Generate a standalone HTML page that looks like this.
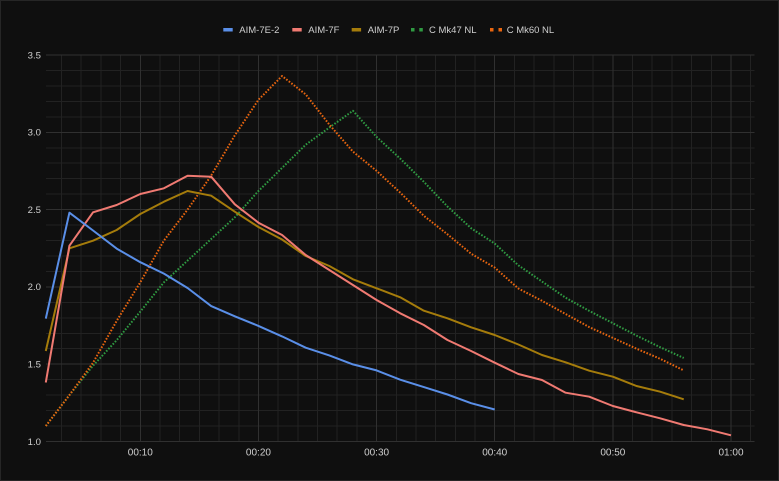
<!DOCTYPE html>
<html><head><meta charset="utf-8"><style>
html,body{margin:0;padding:0;background:#0f0f0f;}
body{width:779px;height:481px;overflow:hidden;}
svg{display:block;}
text{font-family:"Liberation Sans",sans-serif;fill:#cfcfcf;}
</style></head><body>
<svg width="779" height="481" viewBox="0 0 779 481" xmlns="http://www.w3.org/2000/svg">
<rect x="0.5" y="0.5" width="778" height="480" fill="#0f0f0f" stroke="#262626" stroke-width="1"/>
<!-- legend -->
<g font-size="9.5">
<rect x="223.3" y="28" width="9.4" height="3.5" fill="#5a8fe8"/>
<text x="239.3" y="33">AIM-7E-2</text>
<rect x="292.3" y="28" width="9.4" height="3.5" fill="#f07a72"/>
<text x="308.3" y="33">AIM-7F</text>
<rect x="351.7" y="28" width="9.4" height="3.5" fill="#a57c0b"/>
<text x="367.7" y="33">AIM-7P</text>
<rect x="411" y="28" width="3.5" height="3.5" fill="#2f9a42"/>
<rect x="419.3" y="28" width="3.5" height="3.5" fill="#2f9a42"/>
<text x="429" y="33">C Mk47 NL</text>
<rect x="490" y="28" width="3.5" height="3.5" fill="#e8650f"/>
<rect x="498.5" y="28" width="3.5" height="3.5" fill="#e8650f"/>
<text x="506.7" y="33">C Mk60 NL</text>
</g>
<!-- grid -->
<g stroke="#222222" stroke-width="1" shape-rendering="crispEdges">
<line x1="45.8" x2="754.3" y1="426.04" y2="426.04"/>
<line x1="45.8" x2="754.3" y1="410.58" y2="410.58"/>
<line x1="45.8" x2="754.3" y1="395.12" y2="395.12"/>
<line x1="45.8" x2="754.3" y1="379.66" y2="379.66"/>
<line x1="45.8" x2="754.3" y1="348.74" y2="348.74"/>
<line x1="45.8" x2="754.3" y1="333.28" y2="333.28"/>
<line x1="45.8" x2="754.3" y1="317.82" y2="317.82"/>
<line x1="45.8" x2="754.3" y1="302.36" y2="302.36"/>
<line x1="45.8" x2="754.3" y1="271.44" y2="271.44"/>
<line x1="45.8" x2="754.3" y1="255.98" y2="255.98"/>
<line x1="45.8" x2="754.3" y1="240.52" y2="240.52"/>
<line x1="45.8" x2="754.3" y1="225.06" y2="225.06"/>
<line x1="45.8" x2="754.3" y1="194.14" y2="194.14"/>
<line x1="45.8" x2="754.3" y1="178.68" y2="178.68"/>
<line x1="45.8" x2="754.3" y1="163.22" y2="163.22"/>
<line x1="45.8" x2="754.3" y1="147.76" y2="147.76"/>
<line x1="45.8" x2="754.3" y1="116.84" y2="116.84"/>
<line x1="45.8" x2="754.3" y1="101.38" y2="101.38"/>
<line x1="45.8" x2="754.3" y1="85.92" y2="85.92"/>
<line x1="45.8" x2="754.3" y1="70.46" y2="70.46"/>
<line y1="55" y2="441.5" x1="61.54" x2="61.54"/>
<line y1="55" y2="441.5" x1="81.23" x2="81.23"/>
<line y1="55" y2="441.5" x1="100.92" x2="100.92"/>
<line y1="55" y2="441.5" x1="120.61" x2="120.61"/>
<line y1="55" y2="441.5" x1="159.99" x2="159.99"/>
<line y1="55" y2="441.5" x1="179.68" x2="179.68"/>
<line y1="55" y2="441.5" x1="199.37" x2="199.37"/>
<line y1="55" y2="441.5" x1="219.06" x2="219.06"/>
<line y1="55" y2="441.5" x1="238.75" x2="238.75"/>
<line y1="55" y2="441.5" x1="278.13" x2="278.13"/>
<line y1="55" y2="441.5" x1="297.82" x2="297.82"/>
<line y1="55" y2="441.5" x1="317.51" x2="317.51"/>
<line y1="55" y2="441.5" x1="337.2" x2="337.2"/>
<line y1="55" y2="441.5" x1="356.89" x2="356.89"/>
<line y1="55" y2="441.5" x1="396.27" x2="396.27"/>
<line y1="55" y2="441.5" x1="415.96" x2="415.96"/>
<line y1="55" y2="441.5" x1="435.65" x2="435.65"/>
<line y1="55" y2="441.5" x1="455.34" x2="455.34"/>
<line y1="55" y2="441.5" x1="475.03" x2="475.03"/>
<line y1="55" y2="441.5" x1="514.41" x2="514.41"/>
<line y1="55" y2="441.5" x1="534.1" x2="534.1"/>
<line y1="55" y2="441.5" x1="553.79" x2="553.79"/>
<line y1="55" y2="441.5" x1="573.48" x2="573.48"/>
<line y1="55" y2="441.5" x1="593.17" x2="593.17"/>
<line y1="55" y2="441.5" x1="632.55" x2="632.55"/>
<line y1="55" y2="441.5" x1="652.24" x2="652.24"/>
<line y1="55" y2="441.5" x1="671.93" x2="671.93"/>
<line y1="55" y2="441.5" x1="691.62" x2="691.62"/>
<line y1="55" y2="441.5" x1="711.31" x2="711.31"/>
<line y1="55" y2="441.5" x1="750.69" x2="750.69"/>
</g>
<g stroke="#303030" stroke-width="1" shape-rendering="crispEdges">
<line x1="45.8" x2="754.3" y1="441.5" y2="441.5"/>
<line x1="45.8" x2="754.3" y1="364.2" y2="364.2"/>
<line x1="45.8" x2="754.3" y1="286.9" y2="286.9"/>
<line x1="45.8" x2="754.3" y1="209.6" y2="209.6"/>
<line x1="45.8" x2="754.3" y1="132.3" y2="132.3"/>
<line x1="45.8" x2="754.3" y1="55" y2="55"/>
<line y1="55" y2="441.5" x1="140.3" x2="140.3"/>
<line y1="55" y2="441.5" x1="258.44" x2="258.44"/>
<line y1="55" y2="441.5" x1="376.58" x2="376.58"/>
<line y1="55" y2="441.5" x1="494.72" x2="494.72"/>
<line y1="55" y2="441.5" x1="612.86" x2="612.86"/>
<line y1="55" y2="441.5" x1="731" x2="731"/>
</g>
<!-- axis labels -->
<g font-size="9.6" text-anchor="end">
<text x="41" y="444.8">1.0</text>
<text x="41" y="367.5">1.5</text>
<text x="41" y="290.2">2.0</text>
<text x="41" y="212.9">2.5</text>
<text x="41" y="135.6">3.0</text>
<text x="41" y="58.3">3.5</text>
</g>
<g font-size="10" text-anchor="middle">
<text x="140.3" y="455.3">00:10</text>
<text x="258.44" y="455.3">00:20</text>
<text x="376.58" y="455.3">00:30</text>
<text x="494.72" y="455.3">00:40</text>
<text x="612.86" y="455.3">00:50</text>
<text x="731" y="455.3">01:00</text>
</g>
<!-- series -->
<g fill="none" stroke-width="2" stroke-linejoin="round">
<polyline stroke="#2f9a42" stroke-dasharray="1.6 1.6" points="45.79,426.0 69.42,395.1 93.04,365.7 116.67,340.2 140.3,311.6 163.93,282.3 187.56,260.6 211.18,239.0 234.81,217.3 258.44,191.0 282.07,167.9 305.7,144.7 329.32,127.6 352.95,110.8 376.58,136.9 400.21,158.6 423.84,181.8 447.46,206.5 471.09,228.2 494.72,243.6 518.35,265.3 541.98,281.5 565.6,297.7 589.23,310.9 612.86,323.2 636.49,335.6 660.12,347.2 683.74,358.0"/>
<polyline stroke="#e8650f" stroke-dasharray="1.6 1.6" points="45.79,426.0 69.42,395.1 93.04,362.7 116.67,320.9 140.3,282.3 163.93,240.5 187.56,209.6 211.18,175.6 234.81,135.4 258.44,99.8 282.07,76.0 305.7,94.4 329.32,124.6 352.95,151.6 376.58,170.9 400.21,192.6 423.84,215.8 447.46,234.3 471.09,253.7 494.72,267.6 518.35,288.5 541.98,300.8 565.6,314.0 589.23,327.1 612.86,337.9 636.49,348.7 660.12,358.8 683.74,370.4"/>
<polyline stroke="#a57c0b" points="45.79,351 69.42,248.3 93.04,240.7 116.67,230 140.3,214 163.93,201.7 187.56,191 211.18,195.7 234.81,211.7 258.44,227 282.07,239.5 305.7,256 329.32,266 352.95,279.3 376.58,288.3 400.21,297.3 423.84,310.7 447.46,318.3 471.09,327.3 494.72,335 518.35,344.5 541.98,355 565.6,362.3 589.23,370.7 612.86,376.7 636.49,386 660.12,391.7 683.74,399.3"/>
<polyline stroke="#f07a72" points="45.79,382.5 69.42,245.7 93.04,212.3 116.67,205 140.3,194 163.93,188.3 187.56,175.7 211.18,176.7 234.81,204.3 258.44,222.7 282.07,235 305.7,255 329.32,270 352.95,285 376.58,300 400.21,313.3 423.84,325 447.46,340 471.09,351 494.72,362.7 518.35,374 541.98,380 565.6,392.7 589.23,396.7 612.86,406 636.49,412.3 660.12,418.3 683.74,425 707.37,429.3 731,435.3"/>
<polyline stroke="#5a8fe8" points="45.79,318.6 69.42,212.7 93.04,230.5 116.67,248.6 140.3,262.2 163.93,273.6 187.56,288.0 211.18,306.1 234.81,316.3 258.44,325.9 282.07,336.4 305.7,347.7 329.32,355.4 352.95,364.4 376.58,370.4 400.21,379.7 423.84,387.1 447.46,394.5 471.09,403.2 494.72,409.5"/>
</g>
</svg>
</body></html>
